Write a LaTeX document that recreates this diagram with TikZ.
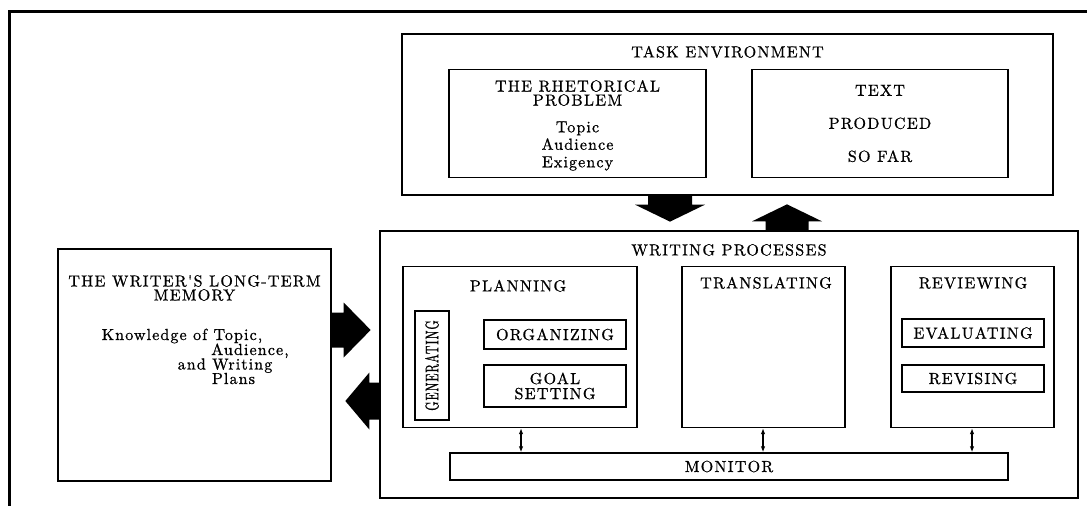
\documentclass[tikz,border=0pt]{standalone}
\usepackage{fontspec}
\usetikzlibrary{arrows.meta,calc}
% one fixed design size of Latin Modern, slightly spaced and darkened
\newfontfamily\capsfam{lmroman10-regular.otf}[LetterSpace=8,FakeBold=0.8]
\newfontfamily\lowfam{lmroman10-regular.otf}[LetterSpace=7,FakeBold=0.8]
\newcommand\lblfont{\capsfam\fontsize{16}{14}\selectfont}
\newcommand\lowfont{\lowfam\fontsize{16}{14}\selectfont}
\begin{document}
\begin{tikzpicture}[x=1pt,y=-1pt,
  every node/.style={font=\lblfont, inner sep=0pt},
  box/.style={draw, line width=1.3pt, rectangle, inner sep=0pt, align=center},
  lbl/.style={anchor=base, align=center},
  low/.style={anchor=base, font=\lowfont},
  link/.style={line width=1.2pt, {Latex[length=6pt,width=4.5pt]}-{Latex[length=6pt,width=4.5pt]}},
  fatarrow/.style={fill=black}]
\useasboundingbox (0,0) rectangle (1087,506);
% outer frame (top and left edges only)
\draw[line width=2.7pt] (9.3,506) -- (9.3,11.7) -- (1087,11.7);

% task environment
\node[box, minimum width=651, minimum height=161] (tev) at (727.5,114.5) {};
\node[lbl] (tevlbl) at (727.5,57.4) {TASK ENVIRONMENT};
\node[box, minimum width=257, minimum height=108] (rhet) at (577.5,123.8) {};
\node[align=center, font=\capsfam\fontsize{16}{14}\selectfont] (rhettitle) at (577.5,93) {THE RHETORICAL\\PROBLEM};
\node[align=center, font=\lowfam\fontsize{16}{17.5}\selectfont] (rhetlist) at (577.5,146) {Topic\\Audience\\Exigency};
\node[box, minimum width=256, minimum height=108, font=\capsfam\fontsize{16}{33}\selectfont] (sofar) at (880,123.5) {TEXT\\PRODUCED\\SO FAR};

% writer's long-term memory
\node[box, minimum width=273, minimum height=232] (ltm) at (194.5,365) {};
\node[align=center] (ltmtitle) at (194.5,288) {THE WRITER'S LONG-TERM\\MEMORY};
\node[low] (k1) at (182,340) {Knowledge of Topic,};
\node[low] (k2) at (250,355) {Audience,};
\node[low] (k3) at (225,369.5) {and Writing};
\node[low] (k4) at (233.5,384) {Plans};

% writing processes
\node[box, minimum width=698, minimum height=267] (wp) at (729,364.5) {};
\node[lbl] (wplbl) at (729,255.4) {WRITING PROCESSES};

\node[box, minimum width=234, minimum height=161] (plan) at (520,347) {};
\node[lbl] (planlbl) at (518,291.4) {PLANNING};
\node[box, minimum width=34, minimum height=109] (gen) at (432,365.5) {};
\node[rotate=90] (genlbl) at (gen.center) {\scalebox{0.74}[1.15]{GENERATING}};
\node[box, minimum width=142, minimum height=29] (org) at (555,334.5) {ORGANIZING};
\node[box, minimum width=142, minimum height=42, font=\capsfam\fontsize{16}{15}\selectfont] (goal) at (555,386) {GOAL\\SETTING};

\node[box, minimum width=163, minimum height=161] (trans) at (763.5,347) {};
\node[lbl] (translbl) at (766,288.4) {TRANSLATING};

\node[box, minimum width=163, minimum height=161] (rev) at (972.5,347) {};
\node[lbl] (revlbl) at (973,288.4) {REVIEWING};
\node[box, minimum width=142, minimum height=28] (eval) at (973,333) {EVALUATING};
\node[box, minimum width=142, minimum height=27] (revis) at (973,378.5) {REVISING};

\node[box, minimum width=558, minimum height=27] (mon) at (729,466.5) {MONITOR};

% links between the processes and the monitor
\coordinate (xa) at (521,0);
\coordinate (xb) at (763,0);
\coordinate (xc) at (972,0);
\draw[link] (plan.south -| xa) -- (mon.north -| xa);
\draw[link] (trans.south -| xb) -- (mon.north -| xb);
\draw[link] (rev.south -| xc) -- (mon.north -| xc);

% block arrows
\coordinate (xd) at (670,0);
\coordinate (xu) at (787,0);
\coordinate (yr) at (0,330);
\coordinate (yl) at (0,401);
\fill[fatarrow] (tev.south -| xd) ++(-22,0) -- ++(44,0) -- ++(0,9) -- ++(13,0)
  -- ++(-35,17) -- ++(-35,-17) -- ++(13,0) -- cycle;
\fill[fatarrow] (wp.north -| xu) ++(-21.5,0) -- ++(43,0) -- ++(0,-9) -- ++(13.5,0)
  -- ++(-35,-17) -- ++(-35,17) -- ++(13.5,0) -- cycle;
\fill[fatarrow] (ltm.east |- yr) ++(0,-17.5) -- ++(12,0) -- ++(0,-10) -- ++(27,27.5)
  -- ++(-27,27.5) -- ++(0,-10) -- ++(-12,0) -- cycle;
\fill[fatarrow] (wp.west |- yl) ++(0,-18.5) -- ++(-10,0) -- ++(0,-10) -- ++(-24,28.5)
  -- ++(24,28.5) -- ++(0,-10) -- ++(10,0) -- cycle;
\end{tikzpicture}
\end{document}
